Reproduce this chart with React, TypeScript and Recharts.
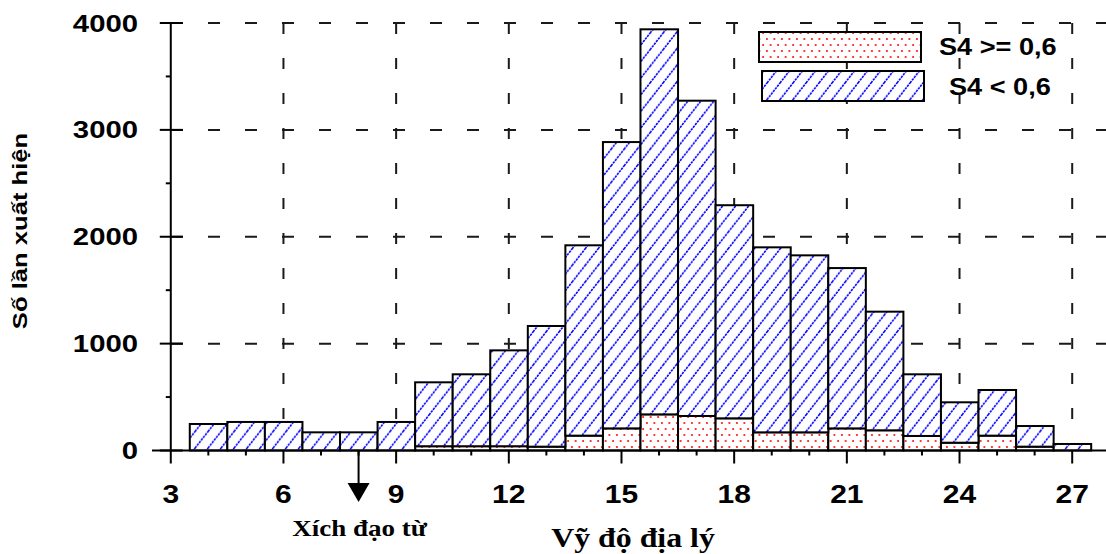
import React from 'react';
import { BarChart, Bar, XAxis, YAxis, CartesianGrid, ReferenceLine, Legend } from 'recharts';

// ---------- data ----------
const latitudes = [4, 5, 6, 7, 8, 9, 10, 11, 12, 13, 14, 15, 16, 17, 18, 19, 20, 21, 22, 23, 24, 25, 26, 27];
// S4 >= 0,6 (bottom, red dots)
const countHigh = [0, 0, 0, 0, 0, 0, 40, 40, 40, 36, 139, 207, 338, 323, 301, 170, 170, 207, 189, 136, 73, 139, 36, 0];
// S4 < 0,6 (top, blue hatch)
const countLow = [248, 267, 267, 170, 170, 267, 598, 673, 897, 1129, 1781, 2679, 3603, 2950, 1994, 1731, 1656, 1500, 1110, 577, 378, 427, 193, 61];
const seriesNames = ['S4 >= 0,6', 'S4 < 0,6'];
const xTicks = [3, 4, 5, 6, 7, 8, 9, 10, 11, 12, 13, 14, 15, 16, 17, 18, 19, 20, 21, 22, 23, 24, 25, 26, 27];
const yTicks = [0, 500, 1000, 1500, 2000, 2500, 3000, 3500, 4000];
const magneticEquator = 8;
const equatorLabel = 'Xích đạo từ';
const xTitle = 'Vỹ độ địa lý';
const yTitle = 'Số lần xuất hiện';

const rows = latitudes.map((lat, i) => ({ lat, high: countHigh[i], low: countLow[i] }));

// ---------- layout ----------
const W = 1106;
const H = 554;
const M_TOP = 23;
const Y_AXIS_W = 152;
const X_AXIS_H = 103.5;
const X_DOMAIN: [number, number] = [2.5, 27.9];
const PLOT_W = W - Y_AXIS_W;
const PX_PER_UNIT = PLOT_W / (X_DOMAIN[1] - X_DOMAIN[0]);
const PLOT_BOTTOM = H - X_AXIS_H;
const Y_AXIS_LINE_X = Y_AXIS_W + (xTicks[0] - X_DOMAIN[0]) * PX_PER_UNIT;

const SANS = '"Liberation Sans", Arial, sans-serif';
const SERIF = '"Liberation Serif", "Times New Roman", serif';

const XTick = (props: any) => {
  const { x, payload } = props;
  const v = payload.value;
  const major = v % 3 === 0;
  return (
    <g>
      <line x1={x} x2={x} y1={PLOT_BOTTOM} y2={PLOT_BOTTOM + (major ? 13 : 5)} stroke="#000" strokeWidth={2} />
      {major && (
        <text transform={`translate(${x},503) scale(1.2,1)`} textAnchor="middle" fontFamily={SANS} fontWeight="bold" fontSize={25} fill="#000">
          {v}
        </text>
      )}
      {v === magneticEquator && (
        <g>
          <line x1={x} x2={x} y1={PLOT_BOTTOM} y2={488} stroke="#000" strokeWidth={2} />
          <polygon points={`${x - 11},483 ${x + 11},483 ${x},502`} fill="#000" />
          <text transform={`translate(${x + 1},536) scale(1.2,1)`} textAnchor="middle" fontFamily={SERIF} fontWeight="bold" fontSize={22.5} fill="#000">
            {equatorLabel}
          </text>
        </g>
      )}
    </g>
  );
};

const YTick = (props: any) => {
  const { y, payload } = props;
  const v = payload.value;
  const major = v % 1000 === 0;
  return (
    <g>
      {major ? (
        <line x1={Y_AXIS_LINE_X - 11} x2={Y_AXIS_LINE_X + 12} y1={y} y2={y} stroke="#000" strokeWidth={2} />
      ) : (
        <line x1={Y_AXIS_LINE_X - 5} x2={Y_AXIS_LINE_X} y1={y} y2={y} stroke="#000" strokeWidth={2} />
      )}
      {major && (
        <text transform={`translate(138,${y + 8.5}) scale(1.22,1)`} textAnchor="end" fontFamily={SANS} fontWeight="bold" fontSize={24} fill="#000">
          {v}
        </text>
      )}
    </g>
  );
};

const YTitle = () => (
  <text transform={`translate(27,231) rotate(-90) scale(1.22,1)`} textAnchor="middle" fontFamily={SANS} fontWeight="bold" fontSize={21} fill="#000">
    {yTitle}
  </text>
);

const XTitle = () => (
  <text transform={`translate(633,547) scale(1.18,1)`} textAnchor="middle" fontFamily={SERIF} fontWeight="bold" fontSize={27} fill="#000">
    {xTitle}
  </text>
);

const LEGEND_ROWS = [
  { rx: 759, ry: 32, tx: 939, ty: 55 },
  { rx: 762, ry: 71, tx: 949, ty: 95 },
];

const LegendContent = (props: any) => {
  const payload = [...(props.payload || [])].sort(
    (a: any, b: any) => seriesNames.indexOf(a.value) - seriesNames.indexOf(b.value)
  );
  return (
    <svg width={W} height={110} style={{ display: 'block' }}>
      {payload.map((entry: any, i: number) => {
        const r = LEGEND_ROWS[i] || LEGEND_ROWS[0];
        return (
          <g key={i}>
            <rect x={r.rx} y={r.ry} width={162} height={30} fill={entry.color} stroke="#000" strokeWidth={2} />
            <text transform={`translate(${r.tx},${r.ty}) scale(1.18,1)`} fontFamily={SANS} fontWeight="bold" fontSize={23} fill="#000">
              {entry.value}
            </text>
          </g>
        );
      })}
    </svg>
  );
};

const makeShape = (fill: string) => (p: any) => {
  const cx = p.x + p.width / 2;
  return (
    <rect
      x={cx - PX_PER_UNIT / 2}
      y={p.y}
      width={PX_PER_UNIT}
      height={Math.max(0, p.height)}
      fill={fill}
      stroke="#000"
      strokeWidth={2}
    />
  );
};

export default function App() {
  const vGrid = xTicks.filter((t) => t % 3 === 0 && t !== xTicks[0]);
  const hGrid = yTicks.filter((t) => t % 1000 === 0 && t > 0);
  return (
    <div style={{ position: 'absolute', left: 0, top: 0, width: W, height: H, background: '#fff' }}>
      <BarChart
        width={W}
        height={H}
        data={rows}
        margin={{ top: M_TOP, right: 0, bottom: 0, left: 0 }}
        barCategoryGap={0}
        barGap={0}
      >
        <defs>
          <pattern id="dots" patternUnits="userSpaceOnUse" width={7.5} height={12}>
            <rect width={7.5} height={12} fill="#fff" />
            <circle cx={1.9} cy={3} r={1} fill="#ff0000" />
            <circle cx={5.65} cy={9} r={1} fill="#ff0000" />
          </pattern>
          <pattern id="hatch" patternUnits="userSpaceOnUse" width={13} height={16.6}>
            <rect width={13} height={16.6} fill="#fff" />
            <line x1={0} y1={16.6} x2={13} y2={0} stroke="#0000ff" strokeWidth={1.6} strokeDasharray="2.4 0.9" />
            <line x1={-1} y1={1.28} x2={1} y2={-1.28} stroke="#0000ff" strokeWidth={1.6} />
            <line x1={12} y1={17.88} x2={14} y2={15.32} stroke="#0000ff" strokeWidth={1.6} />
          </pattern>
        </defs>
        <CartesianGrid vertical={false} horizontalValues={hGrid} stroke="#1a1a1a" strokeWidth={2} strokeDasharray="12 25" strokeDashoffset={18} />
        <CartesianGrid horizontal={false} verticalValues={vGrid} stroke="#1a1a1a" strokeWidth={2} strokeDasharray="11 24" />
        <XAxis
          type="number"
          dataKey="lat"
          domain={X_DOMAIN}
          ticks={xTicks}
          interval={0}
          allowDataOverflow
          height={X_AXIS_H}
          tickLine={false}
          tick={<XTick />}
          axisLine={{ stroke: '#000', strokeWidth: 2 }}
          label={<XTitle />}
        />
        <YAxis
          type="number"
          domain={[0, 4000]}
          ticks={yTicks}
          interval={0}
          width={Y_AXIS_W}
          axisLine={false}
          tickLine={false}
          tick={<YTick />}
          label={<YTitle />}
        />
        <ReferenceLine x={xTicks[0]} stroke="#000" strokeWidth={2} />
        <Bar dataKey="high" name={seriesNames[0]} stackId="s" fill="url(#dots)" shape={makeShape('url(#dots)')} isAnimationActive={false} />
        <Bar dataKey="low" name={seriesNames[1]} stackId="s" fill="url(#hatch)" shape={makeShape('url(#hatch)')} isAnimationActive={false} />
        <Legend
          layout="horizontal"
          verticalAlign="middle"
          align="center"
          content={<LegendContent />}
          wrapperStyle={{ position: 'absolute', left: 0, top: 0, width: W, height: 110, pointerEvents: 'none' }}
        />
      </BarChart>
    </div>
  );
}
